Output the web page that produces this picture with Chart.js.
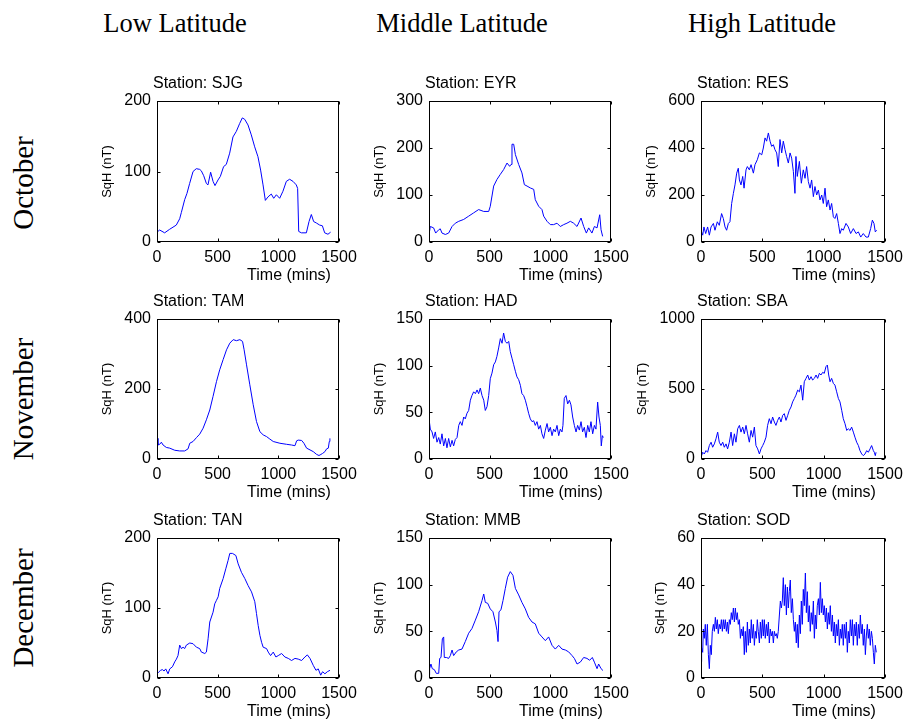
<!DOCTYPE html>
<html lang="en">
<head>
<meta charset="UTF-8">
<title>SqH by station</title>
<style>
  body { margin: 0; background: #fff; }
  #page { position: relative; width: 904px; height: 725px; overflow: hidden; background: #fff; }
  .col-head, .row-head { position: absolute; font-family: "Liberation Serif", "Times New Roman", serif; color: #000; line-height: 1; white-space: nowrap; }
  .col-head { font-size: 26.5px; transform: translate(-50%, -50%); }
  .row-head { font-size: 29px; transform: translate(-50%, -50%) rotate(-90deg); }
  canvas { position: absolute; }
</style>
</head>
<body>
<div id="page">
  <div class="col-head" style="left:175px; top:23px;">Low Latitude</div>
  <div class="col-head" style="left:462px; top:23px;">Middle Latitude</div>
  <div class="col-head" style="left:762px; top:23px;">High Latitude</div>
  <div class="row-head" style="left:23px; top:183px;">October</div>
  <div class="row-head" style="left:23px; top:399px;">November</div>
  <div class="row-head" style="left:23px; top:608px;">December</div>
</div>

<script src="https://cdn.jsdelivr.net/npm/chart.js"></script>
<script>
// stations, row by row (October, November, December) and column by column (low, middle, high latitude)
const stations = ['SJG', 'EYR', 'RES', 'TAM', 'HAD', 'SBA', 'TAN', 'MMB', 'SOD'];
const yMax = [200, 300, 600, 400, 150, 1000, 200, 150, 60];
const yStep = [100, 100, 200, 200, 50, 500, 100, 50, 20];
const xMax = 1500;
const xStep = 500;

// SqH (nT) against time (mins)
const sjgTime = [0,22,63,104,159,187,201,228,247,269,297,324,352,365,385,407,420,442,462,478,503,522,549,571,599,626,654,681,703,723,750,777,805,832,854,874,893,915,942,962,984,1011,1038,1066,1093,1121,1148,1159,1168,1190,1231,1253,1272,1291,1313,1341,1363,1382,1409,1431];
const sjgSqH = [14,17,13,18,24,33,42,60,69,83,100,104,103,101,94,83,81,99,86,80,88,93,107,110,126,149,157,168,176,174,166,152,135,121,102,81,59,64,68,62,67,62,72,86,89,86,81,76,15,13,13,29,39,29,27,24,23,13,11,14];

const eyrTime = [0,11,38,55,80,93,107,135,162,190,217,245,286,327,368,409,451,492,505,533,560,588,615,643,665,676,684,698,712,739,766,786,808,835,863,876,904,931,945,973,1000,1027,1055,1082,1110,1137,1165,1192,1220,1253,1275,1297,1316,1343,1363,1385,1407,1418,1431];
const eyrSqH = [16,33,30,19,26,28,19,16,19,33,40,44,48,55,62,69,65,65,76,119,133,144,154,168,161,165,208,208,186,165,147,122,119,115,112,90,76,69,55,44,37,37,40,33,37,40,44,40,33,51,33,19,30,19,33,30,58,26,12];

const resTime = [0,14,24,38,54,68,82,101,114,133,149,168,182,196,209,223,236,250,264,277,291,304,313,326,340,351,367,378,394,408,427,440,459,476,495,508,522,535,549,563,576,590,603,617,630,644,658,671,685,698,712,726,739,753,766,774,785,802,818,834,848,861,875,889,902,916,929,943,957,970,984,997,1011,1024,1038,1052,1065,1079,1092,1106,1120,1133,1147,1160,1182,1201,1220,1242,1264,1283,1302,1323,1345,1364,1383,1397,1410,1421,1432];
const resSqH = [50,29,64,36,64,29,64,79,50,86,71,121,100,64,50,79,86,164,207,243,293,314,264,243,279,229,307,321,307,329,293,329,350,379,371,400,443,429,464,429,407,414,393,379,321,436,379,429,393,364,336,379,357,300,207,364,279,343,250,307,271,321,257,229,264,193,236,200,221,179,200,164,229,150,179,136,164,107,100,121,79,36,57,50,79,64,36,57,36,43,21,36,21,21,57,93,79,43,50];

const tamTime = [0,8,22,36,50,77,105,146,187,228,256,270,297,325,352,380,407,435,462,490,517,545,573,600,628,655,683,705,718,738,765,793,820,848,875,903,930,958,1013,1068,1109,1137,1151,1164,1192,1211,1233,1261,1288,1316,1335,1351,1365,1384,1398,1412,1420,1425];
const tamSqH = [59,40,42,48,40,33,31,25,23,23,29,45,50,61,71,88,112,140,179,221,255,284,312,331,341,338,341,336,312,269,212,155,107,78,69,64,57,50,45,42,40,38,52,54,53,45,31,26,21,13,10,13,16,21,29,31,50,59];

const hadTime = [0,11,25,38,52,66,80,93,107,121,135,148,162,176,190,203,217,231,245,258,272,286,299,313,327,341,354,368,382,396,409,423,437,451,464,478,492,505,519,533,547,560,574,588,602,615,629,643,657,670,684,698,712,725,739,753,766,780,794,808,821,835,849,863,876,890,904,918,931,945,959,973,986,1000,1014,1027,1041,1055,1069,1082,1096,1104,1115,1129,1143,1157,1170,1184,1198,1212,1225,1239,1253,1266,1280,1294,1308,1321,1335,1349,1363,1376,1390,1401,1412,1420,1429,1437];
const hadSqH = [43,32,29,22,29,18,23,16,27,14,22,12,22,13,20,14,21,23,36,40,36,45,43,49,52,63,68,72,70,74,70,76,68,63,52,56,68,86,92,101,104,110,119,129,124,135,126,124,126,115,108,101,94,88,85,79,70,68,63,56,49,43,40,41,36,40,32,36,27,22,31,38,29,34,25,32,29,36,25,32,29,36,65,68,59,63,58,45,36,29,36,31,40,29,34,23,36,29,40,27,36,32,61,45,36,14,25,23];

const sbaTime = [0,14,27,41,54,68,82,95,109,122,136,149,163,177,190,204,217,231,245,258,272,285,299,313,326,340,353,367,380,394,408,421,435,448,462,476,489,503,516,530,543,557,571,584,598,611,625,639,652,666,679,693,707,720,734,747,761,774,788,802,815,829,842,856,870,883,897,910,924,938,951,965,978,992,1005,1019,1030,1041,1052,1065,1079,1092,1106,1120,1133,1147,1160,1174,1188,1201,1215,1228,1242,1255,1269,1283,1296,1310,1323,1337,1351,1364,1378,1391,1405,1413,1421,1427];
const sbaSqH = [12,48,36,60,48,96,120,84,108,144,192,120,96,120,84,108,72,120,192,96,180,120,216,240,192,228,180,240,180,120,204,156,228,96,72,36,72,96,120,156,240,288,252,300,264,240,276,300,264,312,324,276,312,348,372,408,432,456,492,480,528,420,552,576,600,564,588,564,576,600,576,612,600,619,612,660,671,600,552,576,540,528,480,432,408,348,288,252,204,216,204,228,192,156,120,96,60,36,24,36,60,48,72,96,60,48,24,48];

const tanTime = [0,17,30,44,58,72,91,105,127,146,160,173,187,201,215,228,242,270,297,325,352,366,394,407,421,435,462,476,490,504,517,545,567,586,600,622,650,669,696,724,751,779,806,820,834,848,862,875,903,917,936,958,980,999,1027,1054,1082,1109,1137,1164,1192,1219,1239,1261,1288,1310,1329,1349,1365,1384,1404,1426];
const tanSqH = [6,9,11,12,10,13,6,13,16,23,27,32,47,42,44,42,47,50,49,44,42,37,35,37,56,80,94,106,111,116,128,142,156,168,178,178,175,163,151,142,132,123,109,92,75,61,51,44,42,37,32,37,30,32,35,30,28,25,28,27,25,30,33,28,18,11,13,4,9,6,9,11];

const mmbTime = [0,5,16,27,44,60,80,88,99,110,121,126,143,162,176,190,203,225,245,272,299,327,354,382,409,437,451,464,484,505,527,547,560,569,577,593,610,629,648,670,692,712,739,766,794,821,849,876,904,931,959,986,1014,1041,1069,1096,1124,1151,1179,1198,1220,1247,1275,1302,1324,1346,1363,1385,1398,1418,1434];
const mmbSqH = [3,10,15,10,9,5,5,21,22,42,44,22,22,21,24,30,24,28,30,31,39,48,53,62,71,83,90,81,80,74,71,60,51,39,71,73,83,96,108,114,110,96,89,81,74,65,60,58,48,44,40,44,35,31,35,31,30,28,24,21,15,17,22,21,19,22,17,10,15,10,8];

const sodTime = [0,5,14,19,27,35,43,52,60,68,76,84,92,101,109,117,125,133,141,149,158,166,174,182,190,198,207,215,223,231,239,247,255,264,272,280,288,296,304,313,321,329,337,345,353,361,370,378,386,394,402,410,418,427,435,443,451,459,467,476,484,492,500,508,516,524,533,541,549,557,565,573,582,590,598,606,614,622,630,639,647,655,663,671,679,688,696,704,712,720,728,736,745,753,761,769,777,785,793,802,810,818,826,834,842,851,859,867,875,883,891,899,908,916,924,932,940,948,957,965,973,981,989,997,1005,1014,1022,1030,1038,1046,1054,1063,1071,1079,1087,1095,1103,1111,1120,1128,1136,1144,1152,1160,1168,1177,1185,1193,1201,1209,1217,1226,1234,1242,1250,1258,1266,1274,1283,1291,1299,1307,1315,1323,1332,1340,1348,1356,1364,1372,1380,1389,1397,1405,1413,1421,1429];
const sodSqH = [7,13,11,21,17,23,14,23,10,4,14,10,20,23,20,26,21,25,19,23,21,25,20,25,21,25,20,24,19,25,23,28,25,30,24,30,25,28,23,25,17,21,18,22,10,20,11,24,14,21,15,25,17,23,14,20,17,25,20,15,24,17,25,18,25,17,23,18,24,15,21,18,20,15,20,18,19,17,20,27,33,30,33,43,31,40,27,39,30,37,42,28,34,25,20,24,15,23,13,27,19,33,23,38,31,45,28,37,24,31,20,28,23,33,17,27,21,31,34,27,41,28,34,27,31,24,30,21,28,23,31,20,27,18,24,15,23,18,25,14,21,17,23,14,23,17,24,11,20,15,25,18,25,14,23,18,24,14,23,17,27,19,23,14,21,10,18,23,17,21,14,20,17,11,6,14,11];

const seriesTime = [sjgTime, eyrTime, resTime, tamTime, hadTime, sbaTime, tanTime, mmbTime, sodTime];
const seriesSqH = [sjgSqH, eyrSqH, resSqH, tamSqH, hadSqH, sbaSqH, tanSqH, mmbSqH, sodSqH];

// where each axes box sits on the page
const colLeft = [157, 429, 701];
const colWidth = [182, 182, 184];
const rowTop = [101, 319, 538];
const rowHeight = [141, 140, 140];
const PAD_L = 90, PAD_R = 30, PAD_T = 30, PAD_B = 50;

const SANS = '"Liberation Sans", Arial, Helvetica, sans-serif';
const plainLabel = value => String(value);

// MATLAB-like box: frame, inward ticks on all four sides, title and axis labels
const matlabAxes = {
    id: 'matlabAxes',
    afterDatasetsDraw(chart, args, opts) {
        const ctx = chart.ctx;
        const a = chart.chartArea;
        const xs = chart.scales.x, ys = chart.scales.y;
        const L = Math.round(a.left) + 0.5, R = Math.round(a.right) - 0.5;
        const T = Math.round(a.top) + 0.5, B = Math.round(a.bottom) - 0.5;
        ctx.save();
        ctx.strokeStyle = '#000';
        ctx.lineWidth = 1;
        ctx.strokeRect(L, T, R - L, B - T);
        ctx.beginPath();
        xs.ticks.forEach(t => {
            const px = Math.round(xs.getPixelForValue(t.value)) + 0.5;
            ctx.moveTo(px, B); ctx.lineTo(px, B - 3);
            ctx.moveTo(px, T); ctx.lineTo(px, T + 3);
        });
        ys.ticks.forEach(t => {
            const py = Math.round(ys.getPixelForValue(t.value)) + 0.5;
            ctx.moveTo(L, py); ctx.lineTo(L + 3, py);
            ctx.moveTo(R, py); ctx.lineTo(R - 3, py);
        });
        ctx.stroke();

        ctx.fillStyle = '#000';
        ctx.font = '16px ' + SANS;
        ctx.textAlign = 'left';
        ctx.textBaseline = 'alphabetic';
        ctx.fillText(opts.title, a.left - 4, a.top - 13);

        ctx.textAlign = 'center';
        ctx.textBaseline = 'middle';
        ctx.fillText('Time (mins)', (a.left + a.right) / 2 + 41, a.bottom + 34);

        let widest = 0;
        ys.ticks.forEach(t => { widest = Math.max(widest, ctx.measureText(plainLabel(t.value)).width); });
        ctx.font = '13px ' + SANS;
        ctx.translate(a.left - 6 - widest - 17, (a.top + a.bottom) / 2);
        ctx.rotate(-Math.PI / 2);
        ctx.fillText('SqH (nT)', 0, 0);
        ctx.restore();
    }
};

const page = document.getElementById('page');

stations.forEach((name, i) => {
    const col = i % 3, row = Math.floor(i / 3);
    const canvas = document.createElement('canvas');
    canvas.width = PAD_L + colWidth[col] + PAD_R;
    canvas.height = PAD_T + rowHeight[row] + PAD_B;
    canvas.style.left = (colLeft[col] - PAD_L) + 'px';
    canvas.style.top = (rowTop[row] - PAD_T) + 'px';
    page.appendChild(canvas);

    const points = seriesTime[i].map((t, k) => ({ x: t, y: seriesSqH[i][k] }));

    new Chart(canvas, {
        type: 'line',
        data: {
            datasets: [{
                label: name,
                data: points,
                borderColor: '#0000ff',
                borderWidth: 1,
                pointRadius: 0,
                tension: 0,
                fill: false
            }]
        },
        options: {
            responsive: false,
            animation: false,
            events: [],
            layout: { padding: { left: 0, right: PAD_R, top: PAD_T, bottom: 0 } },
            plugins: {
                legend: { display: false },
                title: { display: false },
                tooltip: { enabled: false },
                matlabAxes: { title: 'Station: ' + name }
            },
            scales: {
                x: {
                    type: 'linear',
                    min: 0,
                    max: xMax,
                    grid: { display: false, drawTicks: false, tickLength: 0 },
                    border: { display: false },
                    ticks: { stepSize: xStep, padding: 6, color: '#000', maxRotation: 0, callback: plainLabel, font: { family: SANS, size: 16 } },
                    afterFit(scale) { scale.height = PAD_B; }
                },
                y: {
                    min: 0,
                    max: yMax[i],
                    grid: { display: false, drawTicks: false, tickLength: 0 },
                    border: { display: false },
                    ticks: { stepSize: yStep[i], padding: 6, color: '#000', callback: plainLabel, font: { family: SANS, size: 16 } },
                    afterFit(scale) { scale.width = PAD_L; }
                }
            }
        },
        plugins: [matlabAxes]
    });
});
</script>
</body>
</html>
